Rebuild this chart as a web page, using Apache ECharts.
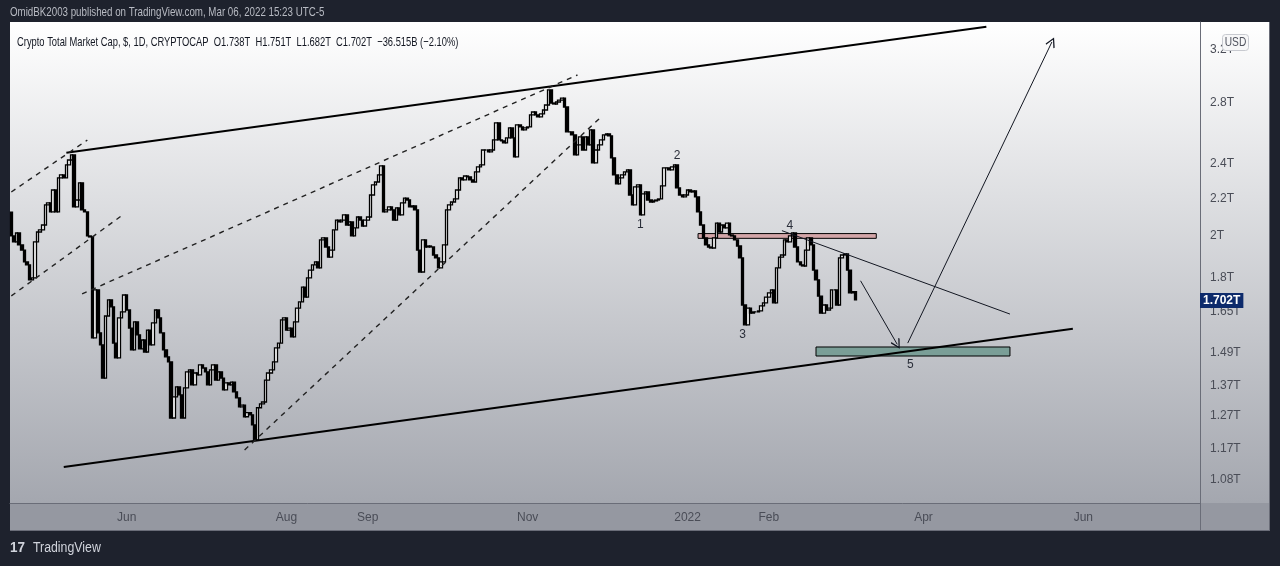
<!DOCTYPE html>
<html><head><meta charset="utf-8">
<script src="https://cdn.jsdelivr.net/npm/echarts@6/dist/echarts.min.js"></script>
<style>html,body{margin:0;padding:0;background:#1e222d;}#c{width:1280px;height:566px;}</style>
</head><body><div id="c"></div>
<script>
// ---------- data ----------
const startDate = '2021-04-18';
const dayCount = 454;
const firstOpen = 2.124;
const closes = [
2.000,1.970,2.015,1.955,1.930,1.873,1.859,1.790,1.799,1.970,
2.020,2.031,2.056,2.163,2.174,2.125,2.246,2.125,2.316,2.333,
2.316,2.393,2.423,2.454,2.152,2.190,2.287,2.136,2.125,2.000,
1.995,1.546,1.745,1.566,1.519,1.397,1.634,1.702,1.672,1.526,
1.470,1.626,1.651,1.723,1.659,1.585,1.500,1.610,1.558,1.504,
1.538,1.492,1.577,1.519,1.606,1.659,1.626,1.566,1.500,1.474,
1.455,1.263,1.332,1.366,1.339,1.263,1.363,1.419,1.426,1.373,
1.415,1.408,1.444,1.433,1.419,1.373,1.426,1.444,1.390,1.419,
1.397,1.356,1.380,1.373,1.383,1.349,1.329,1.299,1.305,1.267,
1.280,1.273,1.241,1.195,1.296,1.309,1.315,1.390,1.415,1.426,
1.455,1.508,1.526,1.618,1.626,1.577,1.585,1.550,1.610,1.667,
1.693,1.758,1.714,1.799,1.835,1.859,1.873,1.845,1.980,1.990,
1.945,1.896,1.930,2.031,2.082,2.072,2.082,2.109,2.056,2.072,
2.000,2.041,2.098,2.082,2.051,2.082,2.098,2.218,2.275,2.292,
2.333,2.387,2.125,2.136,2.152,2.136,2.082,2.147,2.109,2.174,
2.201,2.190,2.152,2.158,2.136,1.930,1.826,1.980,1.945,1.950,
1.945,1.906,1.892,1.845,1.873,1.955,2.136,2.163,2.179,2.196,
2.246,2.316,2.304,2.327,2.322,2.304,2.292,2.351,2.381,2.393,
2.485,2.485,2.473,2.485,2.549,2.661,2.549,2.543,2.530,2.562,
2.627,2.562,2.442,2.647,2.634,2.614,2.627,2.634,2.715,2.735,
2.715,2.701,2.722,2.749,2.784,2.892,2.798,2.791,2.805,2.819,
2.833,2.770,2.601,2.601,2.581,2.454,2.517,2.568,2.485,2.568,
2.517,2.614,2.405,2.485,2.517,2.549,2.581,2.588,2.575,2.436,
2.333,2.281,2.316,2.333,2.351,2.363,2.218,2.163,2.264,2.275,
2.109,2.224,2.235,2.190,2.179,2.185,2.190,2.196,2.270,2.375,
2.375,2.363,2.381,2.393,2.258,2.218,2.207,2.218,2.246,2.235,
2.241,2.207,2.125,2.056,1.990,1.955,1.945,1.940,1.990,2.066,
2.020,2.056,2.041,2.066,2.005,2.000,1.980,1.950,1.892,1.680,
1.598,1.667,1.646,1.651,1.651,1.655,1.676,1.689,1.714,1.732,
1.745,1.689,1.845,1.896,1.906,1.980,1.970,2.000,2.015,1.945,
1.873,1.859,1.854,1.930,1.990,1.955,1.835,1.790,1.718,1.646,
1.680,1.659,1.667,1.745,1.745,1.680,1.892,1.906,1.911,1.835,
1.732,1.738,1.702
];
const lastPrice = 1.702;
const xTickDates = ['2021-06-01','2021-08-01','2021-09-01','2021-11-01','2022-01-01','2022-02-01','2022-04-01','2022-06-01'];
const xTickLabels = ['Jun','Aug','Sep','Nov','2022','Feb','Apr','Jun'];
const yTickValues = [3.2,2.8,2.4,2.2,2,1.8,1.65,1.49,1.37,1.27,1.17,1.08];
const yTickLabels = ['3.2T','2.8T','2.4T','2.2T','2T','1.8T','1.65T','1.49T','1.37T','1.27T','1.17T','1.08T'];
const yMin = 1.019, yMax = 3.433;

// drawings (date, price in T)
const channelUpper = [['2021-05-09',2.468],['2022-04-25',3.392]];
const channelLower = [['2021-05-08',1.116],['2022-05-28',1.582]];
const dashed1 = [['2021-04-18',2.235],['2021-05-17',2.548]];
const dashed2 = [['2021-04-18',1.719],['2021-05-30',2.104]];
const dashed3 = [['2021-05-15',1.728],['2021-11-20',3.003]];
const dashed4 = [['2021-07-16',1.165],['2021-11-29',2.701]];
const trendDown = [['2022-02-06',2.027],['2022-05-04',1.642]];
const arrowDown = [['2022-03-08',1.786],['2022-03-22',1.521]];
const arrowUp = [['2022-03-26',1.526],['2022-05-20',3.264]];
const resistBox = [['2022-01-05',2.012],['2022-03-14',1.988]];
const targetBox = [['2022-02-19',1.511],['2022-05-04',1.477]];
const waveLabels = [['1','2021-12-14',2.056],['2','2021-12-28',2.448],['3','2022-01-22',1.558],['4','2022-02-09',2.051],['5','2022-03-27',1.444]];

// ---------- build ----------
const FONT = "'Liberation Sans','DejaVu Sans',sans-serif";
const L = Math.log;
const cats = [];
const t0 = Date.parse(startDate + 'T00:00:00Z');
for (let i = 0; i < dayCount; i++) cats.push(new Date(t0 + i * 86400000).toISOString().slice(0, 10));
const ix = s => cats.indexOf(s);
const candles = closes.map((c, i) => {
  const o = i ? closes[i - 1] : firstOpen;
  return [L(o), L(c), L(Math.min(o, c)), L(Math.max(o, c))];
});
const pt = p => ({coord: [ix(p[0]), L(p[1])]});
const seg = (pts, style, arrow) => {
  const a = pt(pts[0]), b = pt(pts[1]);
  a.symbol = 'none';
  if (arrow) { b.symbol = 'path://M5,0 L10,9 L9,10 L5,2.5 L1,10 L0,9 Z'; b.symbolSize = [10, 10]; }
  else b.symbol = 'none';
  a.lineStyle = style;
  return [a, b];
};
const solid2 = {color: '#000000', width: 2, type: 'solid'};
const dash1 = {color: '#222222', width: 1.4, type: [5, 5]};
const thin1 = {color: '#131722', width: 1, type: 'solid'};

const chart = echarts.init(document.getElementById('c'));
chart.setOption({
  animation: false,
  backgroundColor: '#1e222d',
  textStyle: {fontFamily: FONT},
  grid: {left: 10, right: 80, top: 22, bottom: 63},
  xAxis: {
    type: 'category', data: cats, boundaryGap: true,
    axisLine: {show: true, lineStyle: {color: '#6a6d78', width: 1}},
    axisTick: {show: false}, splitLine: {show: false},
    axisLabel: {
      interval: (i, v) => xTickDates.includes(v),
      formatter: v => xTickLabels[xTickDates.indexOf(v)],
      color: '#4a4d57', fontSize: 12, fontFamily: FONT, margin: 9
    }
  },
  yAxis: {
    type: 'value', position: 'right', min: L(yMin), max: L(yMax),
    axisLine: {show: true, lineStyle: {color: '#6a6d78', width: 1}},
    axisTick: {show: false}, splitLine: {show: false},
    axisLabel: {
      customValues: yTickValues.map(L),
      formatter: v => { const k = yTickValues.findIndex(t => Math.abs(L(t) - v) < 1e-6); return k >= 0 ? yTickLabels[k] : ''; },
      color: '#4a4d57', fontSize: 12, fontFamily: FONT, margin: 10, align: 'left'
    }
  },
  series: [{
    type: 'candlestick',
    data: candles,
    barWidth: 3,
    itemStyle: {color: '#ffffff', color0: '#000000', borderColor: '#000000', borderColor0: '#000000', borderWidth: 1.3},
    markLine: {
      silent: true, animation: false, symbol: ['none', 'none'],
      label: {show: false},
      data: [
        seg(channelUpper, solid2), seg(channelLower, solid2),
        seg(dashed1, dash1), seg(dashed2, dash1), seg(dashed3, dash1), seg(dashed4, dash1),
        seg(trendDown, thin1), seg(arrowDown, thin1, true), seg(arrowUp, thin1, true)
      ]
    },
    markArea: {
      silent: true,
      data: [
        [{coord: [ix(resistBox[0][0]), L(resistBox[0][1])], itemStyle: {color: '#d3a5a8', borderColor: '#000000', borderWidth: 1}},
         {coord: [ix(resistBox[1][0]), L(resistBox[1][1])]}],
        [{coord: [ix(targetBox[0][0]), L(targetBox[0][1])], itemStyle: {color: '#7a9e97', borderColor: '#000000', borderWidth: 1}},
         {coord: [ix(targetBox[1][0]), L(targetBox[1][1])]}]
      ]
    },
    markPoint: {
      silent: true,
      symbol: 'circle', symbolSize: 0,
      itemStyle: {color: 'rgba(0,0,0,0)'},
      label: {show: true, position: 'inside', color: '#2a2e39', fontSize: 12, fontFamily: FONT},
      data: waveLabels.map(w => ({
        coord: [ix(w[1]), L(w[2])], value: w[0],
        label: {show: true, position: 'inside', formatter: w[0], color: '#2a2e39', fontSize: 12, fontFamily: FONT}
      }))
    }
  }, {
    type: 'line',
    data: [],
    silent: true,
    markLine: {
      silent: true, animation: false, symbol: ['none', 'none'],
      lineStyle: {color: 'rgba(0,0,0,0)', width: 0},
      label: {show: true, position: 'end', distance: 0, formatter: lastPrice.toFixed(3) + 'T',
        color: '#ffffff', backgroundColor: '#0d2a6b', fontWeight: 'bold', fontSize: 12,
        fontFamily: FONT, padding: [2, 3, 1, 3]},
      data: [{yAxis: L(lastPrice)}]
    }
  }],
  graphic: {elements: [
    {type: 'rect', z: -100, silent: true, shape: {x: 10, y: 22, width: 1260, height: 481},
     style: {fill: new echarts.graphic.LinearGradient(0, 0, 0, 1, [{offset: 0, color: '#ffffff'}, {offset: 1, color: '#a4a7af'}])}},
    {type: 'rect', z: -100, silent: true, shape: {x: 10, y: 503, width: 1260, height: 27}, style: {fill: '#9598a1'}},
    {type: 'line', z: 50, silent: true, shape: {x1: 1200.5, y1: 503, x2: 1200.5, y2: 530}, style: {stroke: '#6a6d78', lineWidth: 1}},
    {type: 'line', z: 50, silent: true, shape: {x1: 10, y1: 530.5, x2: 1270, y2: 530.5}, style: {stroke: '#6a6d78', lineWidth: 1}},
    {type: 'line', z: 50, silent: true, shape: {x1: 1269.5, y1: 22, x2: 1269.5, y2: 531}, style: {stroke: '#6a6d78', lineWidth: 1}},
    {type: 'text', z: 50, silent: true, x: 10, y: 12, scaleX: 0.75, style: {text: 'OmidBK2003 published on TradingView.com, Mar 06, 2022 15:23 UTC-5', fill: '#b8bbc3', font: '13px ' + FONT, verticalAlign: 'middle'}},
    {type: 'text', z: 50, silent: true, x: 17, y: 42, scaleX: 0.72, style: {text: 'Crypto Total Market Cap, $, 1D, CRYPTOCAP  O1.738T  H1.751T  L1.682T  C1.702T  \u221236.515B (\u22122.10%)', fill: '#131722', font: '13px ' + FONT, verticalAlign: 'middle'}},
    {type: 'rect', z: 60, silent: true, shape: {x: 1222.5, y: 34.5, width: 26, height: 16, r: 3}, style: {fill: '#f7f7f8', stroke: '#c8cad0', lineWidth: 1}},
    {type: 'text', z: 61, silent: true, x: 1235.5, y: 43, scaleX: 0.85, originX: 0, originY: 0, style: {text: 'USD', fill: '#50535e', font: '12px ' + FONT, align: 'center', verticalAlign: 'middle'}},
    {type: 'text', z: 50, silent: true, x: 10, y: 548, scaleX: 0.9, style: {text: '17', fill: '#d1d4dc', font: 'bold 15px ' + FONT, verticalAlign: 'middle'}},
    {type: 'text', z: 50, silent: true, x: 33, y: 548, scaleX: 0.88, style: {text: 'TradingView', fill: '#d1d4dc', font: '14px ' + FONT, verticalAlign: 'middle'}}
  ]}
});
</script>
</body></html>
